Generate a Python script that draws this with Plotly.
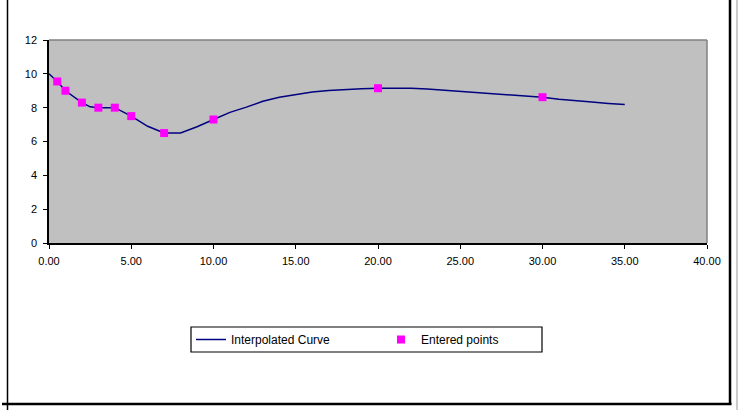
import plotly.graph_objects as go

# Interpolated curve samples
curve_x = [0, 0.5, 1, 1.5, 2, 2.5, 3, 4, 5, 6, 7, 8, 9, 10, 11, 12, 13, 14, 15, 16, 17,
           18, 19, 20, 21, 22, 23, 24, 25, 26, 27, 28, 29, 30, 31, 32, 33, 34, 35]
curve_y = [10.0, 9.55, 9.0, 8.65, 8.3, 8.05, 8.0, 8.0, 7.5, 6.9, 6.5, 6.5, 6.87, 7.3, 7.72,
           8.03, 8.38, 8.62, 8.78, 8.93, 9.02, 9.08, 9.12, 9.15, 9.16, 9.15, 9.1, 9.03, 8.96,
           8.9, 8.82, 8.75, 8.68, 8.62, 8.5, 8.4, 8.33, 8.25, 8.18]

# Entered points
point_x = [0.5, 1, 2, 3, 4, 5, 7, 10, 20, 30]
point_y = [9.55, 9.0, 8.3, 8.0, 8.0, 7.5, 6.5, 7.3, 9.15, 8.62]

x_ticks = [0, 5, 10, 15, 20, 25, 30, 35, 40]
y_ticks = [0, 2, 4, 6, 8, 10, 12]

FONT = "Liberation Sans, Arial, sans-serif"

fig = go.Figure()
fig.add_trace(go.Scatter(
    x=curve_x, y=curve_y, mode="lines", name="Interpolated Curve",
    line=dict(color="#000080", width=1.5),
))
fig.add_trace(go.Scatter(
    x=point_x, y=point_y, mode="markers", name="Entered points",
    marker=dict(symbol="square", size=8, color="#FF00FF", line=dict(width=0)),
))

W, H = 740, 410
L, R, T, B = 49, 33, 40, 167
pw, ph = W - L - R, H - T - B


def px(x):
    return (x - L) / pw


def py(y):
    return (H - B - y) / ph


shapes = [
    # plot area top and right border
    dict(type="line", xref="paper", yref="paper", x0=0, x1=1, y0=1, y1=1,
         line=dict(color="#808080", width=1.5), layer="below"),
    dict(type="line", xref="paper", yref="paper", x0=1, x1=1, y0=0, y1=1,
         line=dict(color="#808080", width=1.5), layer="below"),
    # legend frame
    dict(type="rect", xref="paper", yref="paper", x0=px(191), x1=px(542),
         y0=py(352), y1=py(327), line=dict(color="black", width=1.2), fillcolor="white",
         layer="below"),
    # outer chart frame
    dict(type="line", xref="paper", yref="paper", x0=px(7.5), x1=px(7.5),
         y0=py(0), y1=py(410), line=dict(color="black", width=1.5)),
    dict(type="line", xref="paper", yref="paper", x0=px(2), x1=px(731.5),
         y0=py(404), y1=py(404), line=dict(color="black", width=2.5)),
    dict(type="line", xref="paper", yref="paper", x0=px(730), x1=px(730),
         y0=py(0), y1=py(404), line=dict(color="black", width=2.5)),
    dict(type="line", xref="paper", yref="paper", x0=px(737), x1=px(737),
         y0=py(0), y1=py(410), line=dict(color="#999999", width=1)),
]

fig.update_layout(
    width=W, height=H,
    margin=dict(l=L, r=R, t=T, b=B, pad=0),
    paper_bgcolor="white",
    plot_bgcolor="#C0C0C0",
    font=dict(family=FONT, size=11, color="black"),
    showlegend=True,
    legend=dict(
        orientation="h", x=px(191), xanchor="left", y=py(339.5), yanchor="middle",
        bgcolor="rgba(0,0,0,0)", borderwidth=0,
        entrywidth=145, entrywidthmode="pixels",
        tracegroupgap=0,
        font=dict(family=FONT, size=12, color="black"),
        itemclick=False,
    ),
    xaxis=dict(
        range=[0, 40], tickvals=x_ticks, tickformat=".2f",
        showgrid=False, zeroline=False,
        showline=True, linecolor="black", linewidth=1.5,
        ticks="outside", ticklen=4, tickcolor="black", tickwidth=1,
        ticklabelstandoff=3,
        tickfont=dict(family=FONT, size=11, color="black"),
        fixedrange=True,
    ),
    yaxis=dict(
        range=[0, 12], tickvals=y_ticks,
        showgrid=False, zeroline=False,
        showline=True, linecolor="black", linewidth=1.5,
        ticks="outside", ticklen=4, tickcolor="black", tickwidth=1,
        ticklabelstandoff=4,
        tickfont=dict(family=FONT, size=11, color="black"),
        fixedrange=True,
    ),
    shapes=shapes,
)

fig.write_html("out.html")
